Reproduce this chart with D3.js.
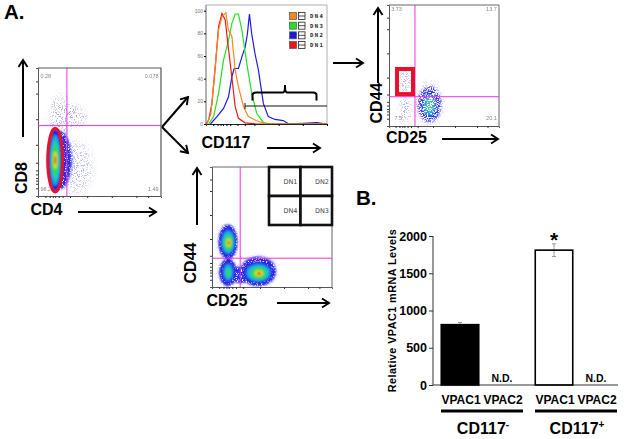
<!DOCTYPE html>
<html><head><meta charset="utf-8">
<style>html,body{margin:0;padding:0;background:#fff}svg{display:block}text{font-family:"Liberation Sans",Arial,sans-serif}</style>
<script src="https://cdn.jsdelivr.net/npm/d3@7"></script>
</head><body><svg id="c" width="624" height="439"></svg>
<script>
// ---- data: bar panel ----
const groups = ["CD117-", "CD117+"];
const receptors = ["VPAC1", "VPAC2"];
const barValues = [[810, null], [1810, null]];
const barErrors = [[30, null], [85, null]];
const barFills = ["#000", "#fff"];
const barTicks = [0, 500, 1000, 1500, 2000];
// ---- data: histogram (axis %, count %) ----
const dn1X=[0,2.2,4.9,7.7,10.4,13.2,15.9,17.8,21.4,24.1,26.8,32.3,41.9,100];
const dn1Y=[0,3.5,18,50.6,85.9,97.6,91.8,73.5,41,15.3,5,1,0,0];
const dn4X=[0.8,4.1,6.8,10.4,13.2,16.4,18.6,21.4,24.1,26.8,31,35,41.9,50.1,100];
const dn4Y=[0,9.4,41.8,83,94.7,98.2,83,77.3,47.7,33,15.3,6.5,2.9,0,0];
const dn3X=[2.2,6.3,10.4,14.5,18.6,21.4,24.1,26.8,29.6,33.7,37.8,41.9,47.4,52.9,100];
const dn3Y=[0,6.5,27,56.5,74,88.8,97.1,97.1,83,53.5,27,9.4,1.2,0,0];
const dn2X=[3.6,9.1,14.5,18.6,21.4,23.3,26.8,29.6,32.3,34.2,35.9,37.8,40.5,43.3,47.4,51.5,57,63.8,68.5,80.5,91.5,100];
const dn2Y=[0,6.5,13.8,24,41.8,49,49,59,67.6,79.4,97,79.4,62,47.7,18.2,6.5,4,3,0,0.6,1.2,0];
const legendNames=["DN4","DN3","DN2","DN1"];
const legendColors=["#f08a1e","#22e022","#1a1ae6","#e81818"];
const histTicks=[0,20,40,60,80,100];
// ---- data: flow populations [cx, cy, rx, ry, peakLevel] in axis % ----
const cd4cd8Dense=[[14,28,5.6,24.5,5]];
const cd4cd8Halo=[[17.5,28,10,23,0]];
const cd4cd8Sparse=[[18,30,12,30,0],[32,22,17,27,0],[18,62,12,22,0],[30,62,12,12,0]];
const dnDense=[[13.3,37.5,6.6,12,5],[13.3,12.5,5.4,9.5,3],[38.5,12,12.5,9,5]];
const dnHalo=[[13.3,37.5,8,14.5,0],[13.3,12,7.5,11.5,0],[38.5,13,15,12.5,0],[24,10,9,7,0]];
const dnSparse=[[13.3,37.5,12,18,0],[13.3,12,10,13,0],[38.5,14,20,16,0]];
const gatedDense=[[36.8,17,8,12,3]];
const gatedHalo=[[36.8,18,11,15,0]];
const gatedSparse=[[36.8,18,17,24,0],[14.5,14,8,16,0],[14.5,37,8,13,0]];
const levelColors=["#2424e0","#1ca8e0","#28d0a0","#38d838","#e8e030","#e82818"];

const svg=d3.select("#c");
const defs=svg.append("defs");
function noise(id,freq,a,b,seed,blur){
 const f=defs.append("filter").attr("id",id).attr("x","-20%").attr("y","-20%").attr("width","140%").attr("height","140%");
 f.append("feTurbulence").attr("type","fractalNoise").attr("baseFrequency",freq).attr("numOctaves",2).attr("seed",seed).attr("result","n");
 f.append("feColorMatrix").attr("in","n").attr("type","matrix").attr("values",`0 0 0 0 0 0 0 0 0 0 0 0 0 0 0 0 0 0 ${a} ${b}`).attr("result","m");
 f.append("feGaussianBlur").attr("in","SourceGraphic").attr("stdDeviation",blur).attr("result","bl");
 f.append("feComposite").attr("in","bl").attr("in2","m").attr("operator","in");
}
noise("speck",0.9,-10,4.6,4,0.5);
noise("mottle",0.8,-6,4.2,9,1.3);
noise("mottle2",0.8,-8,4.4,12,0.9);
const rg=defs.append("radialGradient").attr("id","cloud");
rg.append("stop").attr("offset","0%").attr("stop-color","#5a5af0").attr("stop-opacity",0.6);
rg.append("stop").attr("offset","60%").attr("stop-color","#7a7af4").attr("stop-opacity",0.4);
rg.append("stop").attr("offset","100%").attr("stop-color","#a8a8f8").attr("stop-opacity",0);
const bl=defs.append("filter").attr("id","soft").attr("x","-30%").attr("y","-30%").attr("width","160%").attr("height","160%");
bl.append("feGaussianBlur").attr("stdDeviation",0.8);
const bt=defs.append("filter").attr("id","fuzz");
bt.append("feGaussianBlur").attr("stdDeviation",0.3);
defs.append("marker").attr("id","ah").attr("markerUnits","userSpaceOnUse").attr("viewBox","-9 -6 11 12")
 .attr("markerWidth",11).attr("markerHeight",12).attr("refX",0).attr("refY",0).attr("orient","auto")
 .append("path").attr("d","M-7,-4.5L0,0L-7,4.5").attr("fill","none").attr("stroke","#000").attr("stroke-width",1.9);

function arrow(x1,y1,x2,y2){svg.append("line").attr("x1",x1).attr("y1",y1).attr("x2",x2).attr("y2",y2)
 .attr("stroke","#000").attr("stroke-width",2).attr("marker-end","url(#ah)");}
function label(t,x,y,size,rot,anchor){const s=svg.append("text").text(t).attr("font-weight","bold").attr("font-size",size)
 .attr("text-anchor",anchor||"middle").attr("dominant-baseline","middle");
 if(rot)s.attr("transform",`translate(${x},${y}) rotate(-90)`);else s.attr("x",x).attr("y",y);return s;}

function flow(fr,opt){
 const x=d3.scaleLinear().domain([0,100]).range([fr.l,fr.r]);
 const y=d3.scaleLinear().domain([0,100]).range([fr.b,fr.t]);
 const g=svg.append("g");
 const clip="cl"+fr.l;
 defs.append("clipPath").attr("id",clip).append("rect").attr("x",fr.l).attr("y",fr.t).attr("width",fr.r-fr.l).attr("height",fr.b-fr.t);
 const d=g.append("g").attr("clip-path",`url(#${clip})`);
 const ell=(sel,data)=>sel.selectAll("ellipse").data(data).join("ellipse")
  .attr("cx",a=>x(a[0])).attr("cy",a=>y(a[1])).attr("rx",a=>x(a[2])-x(0)).attr("ry",a=>y(0)-y(a[3]));
 ell(d.append("g").attr("filter","url(#speck)"),opt.sparse).attr("fill","url(#cloud)");
 ell(d.append("g").attr("filter",opt.haloFilter||"url(#mottle)"),opt.halo).attr("fill",opt.haloColor||"#2a2ae8");
 opt.dense.forEach(a=>{
  const n=a[4]+1;
  const lg=d.append("g").attr("filter",opt.denseFilter||"url(#soft)");
  for(let i=0;i<n;i++){const k=Math.pow(1-i/(n+0.3),1.25);
   lg.append("ellipse").attr("cx",x(a[0])+(i/n)*(opt.shift||0)).attr("cy",y(a[1])-(i/n)*(opt.shiftY||0)).attr("rx",(x(a[2])-x(0))*k).attr("ry",(y(0)-y(a[3]))*k)
    .attr("fill",levelColors[i]);}
 });
 if(opt.after)opt.after(d,x,y);
 // axes
 const lx=d3.scaleLog().domain([1,1e5]).range([fr.l,fr.r]);
 const ly=d3.scaleLog().domain([1,1e5]).range([fr.b,fr.t]);
 const mt=[2,3,4,5,7,10,20,100,1000,1e4,3e4];
 g.append("g").attr("transform",`translate(${fr.l},0)`).call(d3.axisLeft(ly).tickValues(mt).tickSize(2).tickFormat("")).call(s=>s.selectAll("line").attr("stroke","#333"))
  .select(".domain").attr("stroke","#555");
 g.append("g").attr("transform",`translate(0,${fr.b})`).call(d3.axisBottom(lx).tickValues(mt).tickSize(2).tickFormat("")).call(s=>s.selectAll("line").attr("stroke","#333"))
  .select(".domain").attr("stroke","#555");
 g.append("path").attr("d",`M${fr.l},${fr.t}H${fr.r}V${fr.b}`).attr("fill","none").attr("stroke",opt.frame||"#666").attr("stroke-width",opt.fw||1);
 // gates
 g.append("line").attr("x1",x(opt.gx)).attr("x2",x(opt.gx)).attr("y1",fr.t).attr("y2",fr.b).attr("stroke","#f030e0").attr("stroke-width",1);
 g.append("line").attr("x1",fr.l).attr("x2",fr.r).attr("y1",y(opt.gy)).attr("y2",y(opt.gy)).attr("stroke","#f030e0").attr("stroke-width",1);
 (opt.q||[]).forEach(q=>g.append("text").text(q[0]).attr("x",x(q[1])).attr("y",y(q[2])).attr("font-size",5.5).attr("fill","#888").attr("text-anchor",q[3]).attr("dominant-baseline","middle").attr("filter","url(#fuzz)"));
 return {x,y,g};
}

// Panel: CD4 / CD8
flow({l:38,r:161,t:68,b:196},{dense:cd4cd8Dense,halo:cd4cd8Halo,sparse:cd4cd8Sparse,gx:23.5,gy:55,frame:"#555",fw:1.2,
 q:[["0.28",2,93,"start"],["0.078",98,93,"end"],["98.2",2,5,"start"],["1.49",98,5,"end"]],
 after:(d,x,y)=>{const a=cd4cd8Dense[0];d.append("ellipse").attr("cx",x(a[0])).attr("cy",y(a[1])).attr("rx",x(a[2])-x(0)+0.5).attr("ry",y(0)-y(a[3])+0.5)
   .attr("fill","none").attr("stroke","#e8102a").attr("stroke-width",3);}});

// Panel: DN gating
flow({l:212,r:332,t:167,b:287},{dense:dnDense,halo:dnHalo,sparse:dnSparse,gx:23.5,gy:24,shift:1,shiftY:-1});
const dnRows=[["DN1","DN2"],["DN4","DN3"]];
const gx0=269,gy0=167,cw=31.5,ch=29;
dnRows.forEach((row,r)=>row.forEach((t,c)=>{
 svg.append("rect").attr("x",gx0+c*cw).attr("y",gy0+r*ch).attr("width",cw).attr("height",ch).attr("fill","#fff").attr("stroke","#111").attr("stroke-width",2.6);
 svg.append("text").text(t).attr("x",gx0+c*cw+cw-3).attr("y",gy0+r*ch+15).attr("text-anchor","end").attr("dominant-baseline","middle").attr("font-size",6.5).attr("fill","#444").attr("style","font-family:'DejaVu Sans'");
}));

// Panel: gated CD117+
const p3=flow({l:389,r:499,t:5,b:126},{dense:gatedDense,halo:gatedHalo,sparse:gatedSparse,gx:23.6,gy:24.2,denseFilter:"url(#mottle2)",haloFilter:"url(#mottle2)",haloColor:"#4a4aec",
 q:[["3.73",2,96,"start"],["13.7",98,96,"end"],["7.5",5,6,"start"],["20.1",98,6,"end"]]});
p3.g.append("rect").attr("x",p3.x(7.3)).attr("y",p3.y(47.1)).attr("width",p3.x(21.8)-p3.x(7.3)).attr("height",p3.y(26.4)-p3.y(47.1))
 .attr("fill","none").attr("stroke","#e8102a").attr("stroke-width",4);

// Panel: histogram
{
 const l=206,r=327,b=124;
 const x=d3.scaleLinear().domain([0,100]).range([l,r]);
 const y=d3.scaleLinear().domain([0,100]).range([b,10.7]);
 const line=d3.line().x(d=>x(d[0])).y(d=>y(d[1])).curve(d3.curveLinear);
 const hist=[[dn2X,dn2Y,legendColors[2]],[dn3X,dn3Y,legendColors[1]],[dn1X,dn1Y,legendColors[3]],[dn4X,dn4Y,legendColors[0]]];
 hist.forEach(h=>svg.append("path").attr("d",line(d3.zip(h[0],h[1]))).attr("fill","none").attr("stroke",h[2]).attr("stroke-width",1.2));
 svg.append("g").attr("transform",`translate(${l},0)`).call(d3.axisLeft(y).tickValues(histTicks).tickSize(2).tickPadding(1))
  .call(s=>{s.selectAll("text").attr("font-size",5).attr("fill","#777");s.select(".domain").attr("stroke","#666").attr("d",`M0,${b}V5`);});
 const lx=d3.scaleLog().domain([1,1e5]).range([l,r]);
 svg.append("g").attr("transform",`translate(0,${b})`).call(d3.axisBottom(lx).tickValues([2,3,4,5,7,10,20,40,100,1000,1e4,1e5]).tickSize(2).tickFormat(""))
  .select(".domain").attr("stroke","#222");
 svg.append("path").attr("d",`M${l},5H${r}V${b}`).attr("fill","none").attr("stroke","#999").attr("stroke-width",0.8);
 svg.append("path").attr("d",`M245,103V109M245,106H327`).attr("stroke","#111").attr("fill","none").attr("stroke-width",1);
 svg.append("path").attr("d","M252.5,100.5V95Q252.5,92.5 256,92.5H283Q285,92.5 285,85Q285,92.5 287,92.5H313Q316.5,92.5 316.5,95V100.5").attr("fill","none").attr("stroke","#000").attr("stroke-width",2);
 const rowY=d3.scalePoint().domain(legendNames).range([16,45]);
 legendNames.forEach((n,i)=>{
  const yy=rowY(n);
  svg.append("rect").attr("x",289.5).attr("y",yy-3.5).attr("width",7).attr("height",7).attr("fill",legendColors[i]).attr("stroke","#555").attr("stroke-width",0.7);
  svg.append("rect").attr("x",298.5).attr("y",yy-3.5).attr("width",6.5).attr("height",7).attr("fill","#fff").attr("stroke","#222").attr("stroke-width",0.8);
  svg.append("line").attr("x1",298.5).attr("x2",305).attr("y1",yy).attr("y2",yy).attr("stroke","#222").attr("stroke-width",0.8);
  svg.append("text").text(n).attr("x",310).attr("y",yy+0.5).attr("font-size",5.6).attr("font-weight","bold").attr("letter-spacing",1.4).attr("dominant-baseline","middle").attr("fill","#222").attr("style","font-family:'DejaVu Sans Mono'");
 });
}

// Bar panel
{
 const y=d3.scaleLinear().domain([0,2000]).range([385,236]);
 const gx=d3.scalePoint().domain(groups).range([481,575]);
 const ix=d3.scalePoint().domain(receptors).range([-21,21]);
 const bw=37.5;
 svg.append("g").attr("transform","translate(433,0)").call(d3.axisLeft(y).tickValues(barTicks).tickSize(4).tickPadding(2).tickSizeOuter(0).tickFormat(d3.format("d")))
  .call(s=>{s.selectAll("text").attr("font-size",12.5).attr("font-weight","bold").attr("fill","#000");s.selectAll("line").attr("stroke","#333");s.select(".domain").attr("stroke","#333").attr("d","M0,385V236");});
 svg.append("line").attr("x1",433).attr("x2",618).attr("y1",385).attr("y2",385).attr("stroke","#333");
 groups.forEach((g,gi)=>{
  receptors.forEach((r,ri)=>{
   const cx=gx(g)+ix(r),v=barValues[gi][ri];
   if(v!==null){
    const e=barErrors[gi][ri];
    svg.append("path").attr("d",`M${cx},${y(v+e)}V${y(v-e)}M${cx-2},${y(v+e)}H${cx+2}M${cx-2},${y(v-e)}H${cx+2}`).attr("stroke","#999").attr("fill","none");
    svg.append("rect").attr("x",cx-bw/2).attr("y",y(v)).attr("width",bw).attr("height",y(0)-y(v)).attr("fill",gi===1?"none":barFills[gi]).attr("stroke","#000").attr("stroke-width",1.6);
   } else {
    label("N.D.",cx,379,10.5);
   }
   label(r,cx+1,401,12);
  });
  svg.append("line").attr("x1",gx(g)-40).attr("x2",gx(g)+42).attr("y1",411).attr("y2",411).attr("stroke","#000").attr("stroke-width",3);
  const t=label(g.slice(0,5),gx(g)+2,430,16);
  t.append("tspan").text(g.slice(5)).attr("font-size",10).attr("dy",-5);
 });
 label("*",554,241,21);
 label("Relative VPAC1 mRNA Levels",393,310.5,10.8,true).attr("letter-spacing",0.45);
}

// Titles and annotations
label("A.",4,14,20.5,false,"start");
label("B.",356,200,20.5,false,"start");
label("CD8",23,178,16,true); arrow(23,137,23,60);
label("CD4",46.5,211,16); arrow(78,212,156,212);
label("CD117",226,144,16); arrow(267,148,320,148);
label("CD44",378,103,16,true); arrow(378,83,378,8);
label("CD25",406.5,139,16); arrow(442,139,498,139);
label("CD44",192,263,16,true); arrow(197,225,197,168);
label("CD25",227,302,16); arrow(277,303,329,303);
arrow(162,127,188,97); arrow(162,127,188,153); arrow(333,63,363,63);
</script></body></html>
